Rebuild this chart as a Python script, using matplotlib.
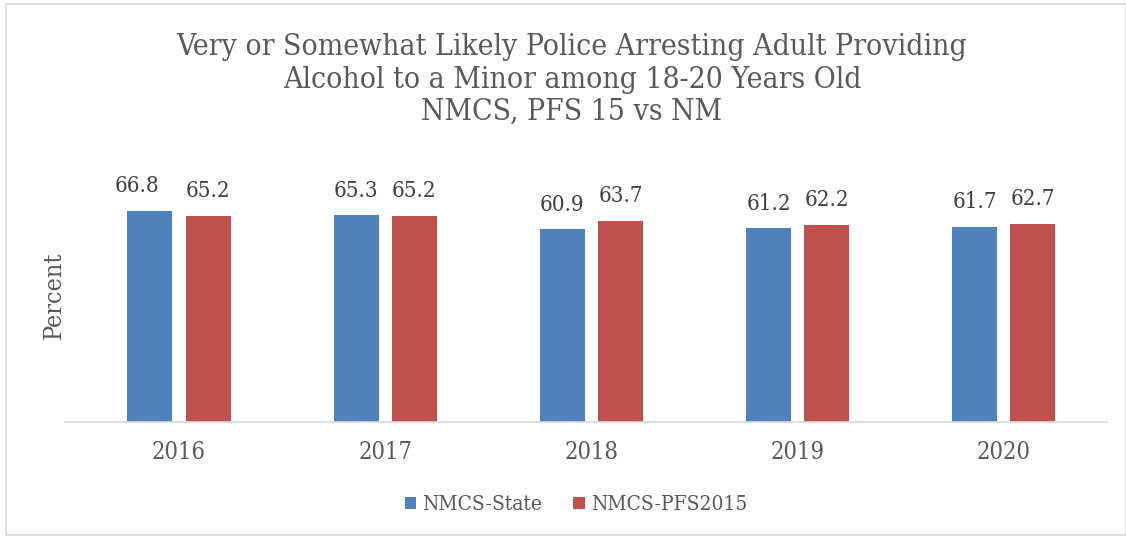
import matplotlib.pyplot as plt
from matplotlib.patches import Rectangle
import numpy as np

years = ["2016", "2017", "2018", "2019", "2020"]
state = [66.8, 65.3, 60.9, 61.2, 61.7]
pfs2015 = [65.2, 65.2, 63.7, 62.2, 62.7]

blue = "#4F81BD"
red = "#C0504D"
gray = "#595959"

plt.rcParams["font.family"] = ["DejaVu Serif"]
plt.rcParams["font.stretch"] = "condensed"

W, H = 1126, 539
fig = plt.figure(figsize=(W / 100, H / 100), dpi=100)
ax = fig.add_axes([65 / W, 1 - 422 / H, 1042 / W, 253 / H])

x = np.arange(len(years))
w = 0.218
off = 0.141
b1 = ax.bar(x - off, state, w, color=blue, label="NMCS-State")
b2 = ax.bar(x + off, pfs2015, w, color=red, label="NMCS-PFS2015")

for bars in (b1, b2):
    anns = ax.bar_label(bars, labels=[f"{v:.1f}" for v in bars.datavalues],
                        padding=10, fontsize=16, color="#404040")
    if bars is b1:
        # first label sits a bit to the left in the original
        anns[0].xyann = (-9, 10)

ax.set_xlim(-0.553, 4.5)
ax.set_ylim(0, 80)
ax.set_xticks(x)
ax.set_xticklabels(years, fontsize=17, color=gray)
ax.tick_params(axis="x", length=0, pad=14)
ax.set_yticks([])
for s in ("top", "right", "left"):
    ax.spines[s].set_visible(False)
ax.spines["bottom"].set_color("#d9d9d9")
ax.spines["bottom"].set_linewidth(1.2)
ax.set_ylabel("Percent", fontsize=18, color=gray)
ax.yaxis.set_label_coords((66 - 65) / 1042, (422 - 295) / 253)

title_lines = ["Very or Somewhat Likely Police Arresting Adult Providing",
               "Alcohol to a Minor among 18-20 Years Old",
               "NMCS, PFS 15 vs NM"]
for line, ypix in zip(title_lines, [47, 80, 112]):
    fig.text(572 / W, 1 - ypix / H, line, ha="center", va="center",
             fontsize=21.5, color=gray)

fig.legend(handles=[b1, b2], loc="center", bbox_to_anchor=(576 / W, 1 - 505 / H),
           ncol=2, frameon=False, fontsize=15, labelcolor=gray,
           handlelength=0.55, handleheight=0.55, handletextpad=0.3, columnspacing=1.5)

fig.add_artist(Rectangle((6 / W, 1 - 535 / H), 1 - 6 / W, 531 / H,
                         transform=fig.transFigure, fill=False,
                         edgecolor="#d9d9d9", linewidth=1.2))

fig.savefig("out.png", dpi=100)
